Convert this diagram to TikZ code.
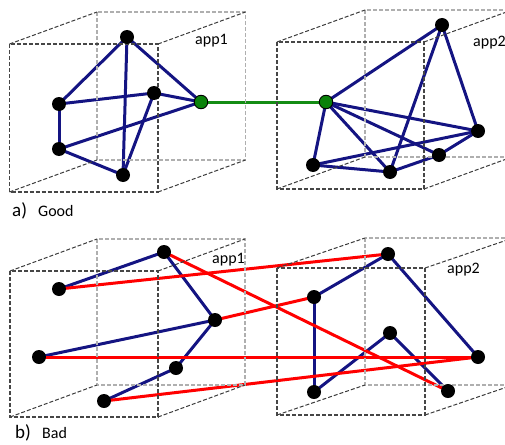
\documentclass[tikz,border=0pt]{standalone}
\usepackage{fontspec}
\setmainfont{Carlito}
\pgfdeclarelayer{bg}
\pgfsetlayers{bg,main}
\definecolor{navyc}{RGB}{20,20,130}
\definecolor{gline}{RGB}{20,140,20}
\definecolor{gnode}{RGB}{10,130,10}
\definecolor{frontc}{RGB}{70,70,70}
\definecolor{backc}{RGB}{175,175,175}
\definecolor{depthc}{RGB}{60,60,60}
\newcommand\drawcube[6]{%
  \draw[backbox] (#1+#5,#2+#6) rectangle (#3+#5,#4+#6);
  \draw[depthline] (#1,#2) -- ++(#5,#6);
  \draw[depthline] (#3,#2) -- ++(#5,#6);
  \draw[depthline] (#1,#4) -- ++(#5,#6);
  \draw[depthline] (#3,#4) -- ++(#5,#6);
  \draw[frontbox] (#1,#2) rectangle (#3,#4);
}
\begin{document}
\begin{tikzpicture}[x=1pt,y=-1pt,
  dot/.style={circle,fill=black,inner sep=0pt,minimum size=14pt},
  gdot/.style={circle,fill=gnode,draw=black,line width=0.9pt,inner sep=0pt,minimum size=13.5pt},
  blueedge/.style={draw=navyc,line width=3pt},
  rededge/.style={draw=red,line width=3pt},
  greenedge/.style={draw=gline,line width=3pt},
  frontbox/.style={draw=frontc,line width=1.1pt,dash pattern=on 4pt off 2pt},
  backbox/.style={draw=backc,line width=1.1pt,dash pattern=on 4pt off 2pt},
  depthline/.style={draw=depthc,line width=1pt,dash pattern=on 4pt off 2pt},
  lbl/.style={anchor=base west,inner sep=0pt,font=\fontsize{16}{18}\selectfont},
  tag/.style={anchor=base west,inner sep=0pt,font=\fontsize{19}{21}\selectfont}]
\useasboundingbox (0,0) rectangle (505,444);
\clip (0,0) rectangle (505,444);

% boxes
\drawcube{9.5}{44}{158}{192}{87.5}{-32}
\drawcube{277}{42}{424}{189}{88}{-32}
\drawcube{10}{271}{158}{417}{87}{-32}
\drawcube{277}{268}{425}{415}{88}{-30}

% labels
\node[lbl] (l1) at (195,45) {app1};
\node[lbl] (l2) at (473,47) {app2};
\node[lbl] (l3) at (212,263) {app1};
\node[lbl] (l4) at (447,273) {app2};
\node[tag] (ta) at (12,216) {a)};
\node[lbl] (ga) at (38,216) {Good};
\node[tag] (tb) at (15,438) {b)};
\node[lbl] (gb) at (42,438) {Bad};

% (a) nodes
\node[dot] (n1) at (127,37) {};
\node[dot] (n2) at (59,104) {};
\node[dot] (n3) at (154,93) {};
\node[dot] (n4) at (59,149) {};
\node[dot] (n5) at (123,175) {};
\node[gdot] (g1) at (201,102) {};
\node[gdot] (g2) at (326,102) {};
\node[dot] (m1) at (442,25) {};
\node[dot] (m2) at (478,131) {};
\node[dot] (m3) at (439,155) {};
\node[dot] (m4) at (390,172) {};
\node[dot] (m5) at (313,165) {};

% (b) nodes
\node[dot] (b1) at (164,252) {};
\node[dot] (b2) at (59,289) {};
\node[dot] (b3) at (215,320) {};
\node[dot] (b4) at (39,357) {};
\node[dot] (b5) at (176,368) {};
\node[dot] (b6) at (104,401) {};
\node[dot] (c1) at (388,254) {};
\node[dot] (c2) at (314,297) {};
\node[dot] (c3) at (390,333) {};
\node[dot] (c4) at (478,357) {};
\node[dot] (c5) at (314,392) {};
\node[dot] (c6) at (448,391) {};

\begin{pgfonlayer}{bg}
% (a) edges
\foreach \a/\b in {n1/n2,n1/n5,n1/g1,n2/n3,n2/n4,n3/g1,n3/n5,n4/g1,n4/n5,
  g2/m1,g2/m2,g2/m3,g2/m4,g2/m5,m1/m4,m1/m2,m5/m2,m5/m4,m4/m3,m3/m2}
  \path[blueedge] (\a.center) -- (\b.center);
\path[greenedge] (g1.center) -- (g2.center);
% (b) edges
\foreach \a/\b in {b1/b2,b1/b3,b3/b4,b3/b5,b5/b6,c1/c2,c1/c4,c2/c5,c5/c3,c3/c6}
  \path[blueedge] (\a.center) -- (\b.center);
\foreach \a/\b in {b2/c1,b1/c6,b3/c2,b4/c4,b6/c4}
  \path[rededge] (\a.center) -- (\b.center);
\end{pgfonlayer}
\end{tikzpicture}
\end{document}
